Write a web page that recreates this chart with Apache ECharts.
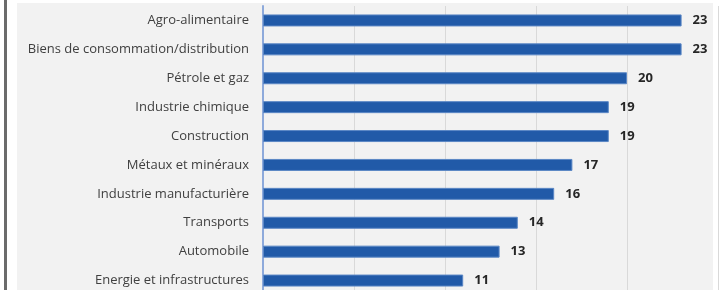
<!DOCTYPE html>
<html>
<head>
<meta charset="utf-8">
<script src="https://cdn.jsdelivr.net/npm/echarts@6/dist/echarts.min.js"></script>
<style>
  html, body { margin: 0; padding: 0; background: #fff; overflow: hidden; }
  #chart { width: 720px; height: 300px; }
</style>
</head>
<body>
<div id="chart"></div>
<script>
// secteurs et valeurs
var secteurs = [
  "Agro-alimentaire",
  "Biens de consommation/distribution",
  "Pétrole et gaz",
  "Industrie chimique",
  "Construction",
  "Métaux et minéraux",
  "Industrie manufacturière",
  "Transports",
  "Automobile",
  "Energie et infrastructures"
];
var valeurs = [23, 23, 20, 19, 19, 17, 16, 14, 13, 11];

var chart = echarts.init(document.getElementById("chart"));

chart.setOption({
  animation: false,
  backgroundColor: "#ffffff",
  // fond gris + bordure gauche (le graphique d'origine est rogné en bas)
  graphic: [
    { type: "rect", z: -10, shape: { x: 17, y: 3, width: 696, height: 300 }, style: { fill: "#f2f2f2" } },
    { type: "rect", z: -10, shape: { x: 4, y: 0, width: 3, height: 300 }, style: { fill: "#6b6b6b" } }
  ],
  grid: { left: 263, right: 2, top: 6, height: 289 },
  xAxis: {
    type: "value",
    min: 0,
    max: 25,
    interval: 5,
    axisLabel: { show: false },
    axisLine: { show: false },
    axisTick: { show: false },
    splitLine: { lineStyle: { color: "#d9d9d9", width: 1 } }
  },
  yAxis: {
    type: "category",
    inverse: true,
    data: secteurs,
    axisLine: { lineStyle: { color: "#8eaadb", width: 2 } },
    axisTick: { show: false },
    axisLabel: {
      margin: 14,
      color: "#404040",
      fontFamily: "Open Sans",
      fontSize: 13
    }
  },
  series: [
    {
      type: "bar",
      data: valeurs,
      barWidth: 12,
      itemStyle: { color: "#215aa8", borderColor: "#5b87c5", borderWidth: 1 },
      label: {
        show: true,
        position: "right",
        distance: 11,
        color: "#262626",
        fontWeight: "bold",
        fontFamily: "Open Sans",
        fontSize: 13
      }
    }
  ]
});
</script>
</body>
</html>
